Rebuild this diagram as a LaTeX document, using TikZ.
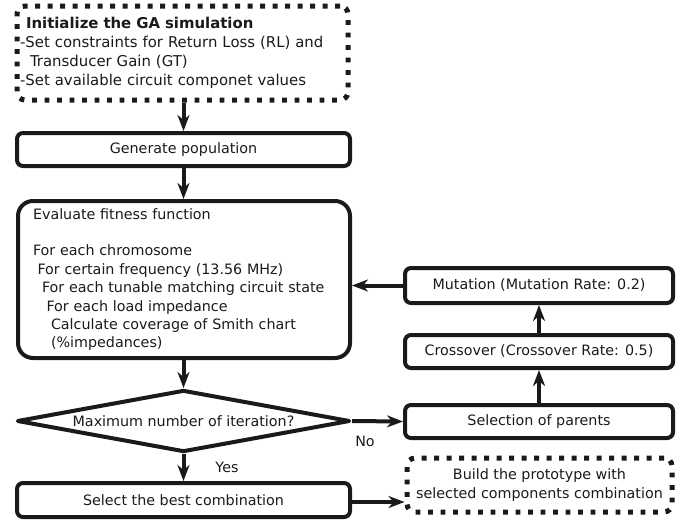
\documentclass[tikz,border=0pt]{standalone}
\usepackage{fontspec}
\setmainfont{DejaVu Sans}
\usetikzlibrary{shapes.geometric,arrows.meta}
\definecolor{ink}{HTML}{1A1A1A}
\tikzset{
  every node/.style={font=\fontsize{14.3}{18.4}\selectfont, text=ink},
  procbox/.style={draw=ink, line width=4pt, rounded corners=6pt, inner sep=0pt, align=center},
  dotbox/.style={draw=ink, line width=5pt, dash pattern={on 4.8pt off 7.7pt}, rounded corners=8pt, inner sep=0pt},
  decision/.style={diamond, draw=ink, line width=4pt, line join=round, inner sep=0pt, aspect=5.37},
  flow/.style={draw=ink, line width=4pt, -{Stealth[length=16pt,width=12pt,inset=5pt]}},
  lbl/.style={inner sep=0pt}
}
\begin{document}
\begin{tikzpicture}[x=1pt,y=-1pt]
\useasboundingbox (0,0) rectangle (692,520);

\node[dotbox, minimum width=331pt, minimum height=94pt, text width=325pt, inner xsep=3pt, align=left,
      font=\fontsize{14.9}{19}\selectfont] (init) at (182.5,53)
  {\hspace{6pt}\textbf{Initialize the GA simulation}\\
   -Set constraints for Return Loss (RL) and\\
   \hspace{10pt}Transducer Gain (GT)\\
   -Set available circuit componet values};

\node[procbox, minimum width=333pt, minimum height=33pt] (gen) at (183.5,149.5) {Generate population};

\node[procbox, rounded corners=15pt, minimum width=332pt, minimum height=157pt, text width=302pt, inner xsep=15pt, align=left] (eval) at (184,279.5)
  {Evaluate fitness function\\[18.4pt]
   For each chromosome\\
   \hspace{4.5pt}For certain frequency (13.56 MHz)\\
   \hspace{9pt}For each tunable matching circuit state\\
   \hspace{13.5pt}For each load impedance\\
   \hspace{18pt}Calculate coverage of Smith chart\\
   \hspace{18pt}(\%impedances)};

\node[decision, minimum width=333pt, minimum height=62pt] (dec) at (183.5,421) {Maximum number of iteration?};

\node[procbox, minimum width=333pt, minimum height=34pt] (best) at (183.5,500) {Select the best combination};

\node[procbox, minimum width=268pt, minimum height=35pt] (mut) at (539,285.5) {Mutation (Mutation Rate: 0.2)};
\node[procbox, minimum width=268pt, minimum height=33pt] (cross) at (539,351.5) {Crossover (Crossover Rate: 0.5)};
\node[procbox, minimum width=268pt, minimum height=33pt] (sel) at (539,421.5) {Selection of parents};

\node[dotbox, minimum width=265pt, minimum height=54pt, align=center] (build) at (539.5,485)
  {Build the prototype with\\selected components combination};

\node[lbl] (no) at (365,441) {No};
\node[lbl] (yes) at (227,467) {Yes};

\draw[flow] (init.south -| gen.north) -- (gen.north);
\draw[flow] (gen) -- (eval.north -| gen.south);
\draw[flow] (eval.south -| dec.north) -- (dec.north);
\draw[flow] (dec) -- (best);
\draw[flow] (dec.east) -- (sel.west);
\draw[flow] (sel) -- (cross);
\draw[flow] (cross) -- (mut);
\draw[flow] (mut.west) -- (mut.west -| eval.east);
\draw[flow] (best.east |- 0,502) -- (build.west |- 0,502);
\end{tikzpicture}
\end{document}
